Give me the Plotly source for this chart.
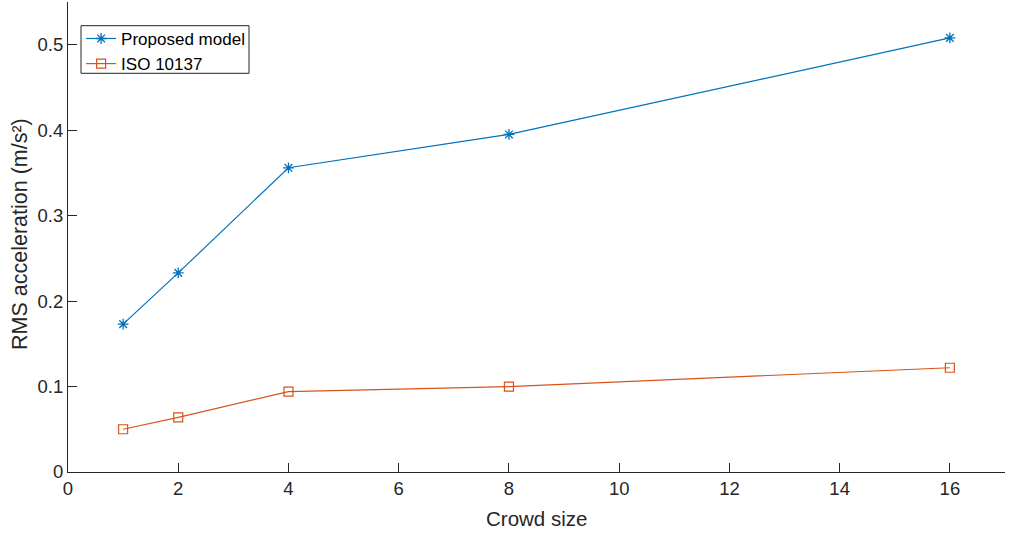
import plotly.graph_objects as go

crowd_size = [1, 2, 4, 8, 16]
proposed_model = [0.173, 0.233, 0.356, 0.395, 0.508]
iso_10137 = [0.050, 0.064, 0.094, 0.100, 0.122]

x_ticks = [0, 2, 4, 6, 8, 10, 12, 14, 16]
y_ticks = [0, 0.1, 0.2, 0.3, 0.4, 0.5]
y_tick_labels = ["0", "0.1", "0.2", "0.3", "0.4", "0.5"]

axis_color = "#262626"
font_family = "Liberation Sans, Arial, sans-serif"

fig = go.Figure()
fig.add_trace(go.Scatter(
    x=crowd_size, y=proposed_model, name="Proposed model",
    mode="lines+markers",
    line=dict(color="#0072BD", width=1.2),
    marker=dict(symbol="asterisk-open", size=9, color="#0072BD", line=dict(width=1.3, color="#0072BD")),
))
fig.add_trace(go.Scatter(
    x=crowd_size, y=iso_10137, name="ISO 10137",
    mode="lines+markers",
    line=dict(color="#D95319", width=1.2),
    marker=dict(symbol="square-open", size=9, color="#D95319", line=dict(width=1.2, color="#D95319")),
))

axis_common = dict(
    showline=True, linecolor=axis_color, linewidth=1,
    ticks="inside", ticklen=9, tickcolor=axis_color, tickwidth=1,
    showgrid=False, zeroline=False, mirror=False, automargin=False,
    tickfont=dict(family=font_family, size=18.5, color=axis_color),
)

fig.update_layout(
    width=1010, height=533,
    paper_bgcolor="white", plot_bgcolor="white",
    margin=dict(l=68, r=5, t=2, b=61),
    font=dict(family=font_family, size=18, color=axis_color),
    xaxis=dict(range=[0, 17], tickvals=x_ticks, ticktext=[str(v) for v in x_ticks], **axis_common),
    yaxis=dict(range=[0, 0.55], tickvals=y_ticks, ticktext=y_tick_labels, **axis_common),
    legend=dict(x=0.014, y=0.9597, xanchor="left", yanchor="top",
                bgcolor="rgba(0,0,0,0)", borderwidth=0,
                font=dict(family=font_family, size=17, color="black"),
                itemwidth=30, tracegroupgap=0),
    showlegend=True,
    shapes=[
        dict(type="rect", xref="paper", yref="paper",
             x0=0.0139, x1=0.1932, y0=0.8483, y1=0.9496,
             line=dict(color=axis_color, width=1), fillcolor="white", layer="above"),
    ],
    annotations=[
        dict(text="Crowd size", xref="paper", yref="paper", x=0.5, y=0,
             xanchor="center", yanchor="middle", yshift=-46, showarrow=False,
             font=dict(family=font_family, size=20.5, color=axis_color)),
        dict(text="RMS acceleration (m/s²)", xref="paper", yref="paper", x=0, y=0.5,
             xanchor="center", yanchor="middle", xshift=-48, yshift=3, textangle=-90,
             showarrow=False, font=dict(family=font_family, size=21.5, color=axis_color)),
    ],
)

fig.write_html("out.html", config={"displayModeBar": False},
               post_script="document.body.style.margin='0';document.body.style.overflow='hidden';")
